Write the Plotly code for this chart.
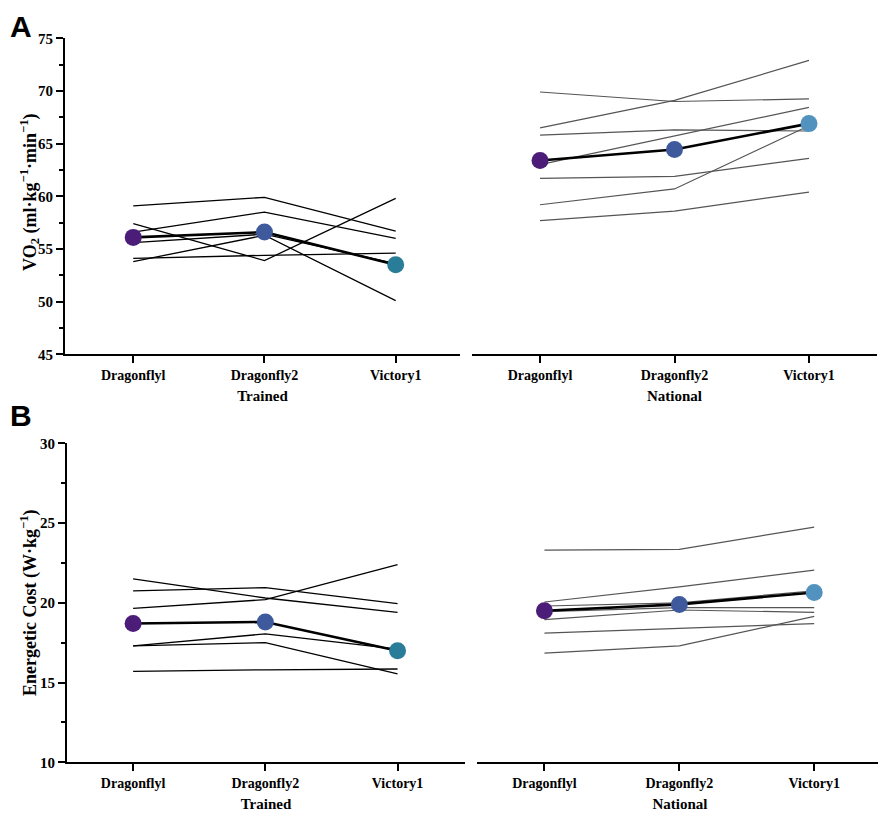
import plotly.graph_objects as go

# ---------------- data ----------------
categories = ["Dragonflyl", "Dragonfly2", "Victory1"]

# Panel A: VO2 (ml·kg-1·min-1)
vo2_trained_individuals = [
    [59.1, 59.9, 56.7],
    [57.4, 53.9, 59.8],
    [56.6, 58.5, 56.0],
    [55.6, 56.4, 53.6],
    [54.1, 54.4, 54.6],
    [53.8, 56.3, 50.1],
]
vo2_trained_mean = [56.1, 56.6, 53.5]

vo2_national_individuals = [
    [69.9, 69.0, 69.25],
    [66.5, 69.1, 72.9],
    [65.8, 66.3, 66.2],
    [63.0, 65.7, 68.45],
    [61.7, 61.9, 63.6],
    [59.2, 60.7, 66.7],
    [57.7, 58.6, 60.4],
]
vo2_national_mean = [63.4, 64.45, 66.9]

# Panel B: Energetic cost (W·kg-1)
ec_trained_individuals = [
    [21.5, 20.3, 19.4],
    [20.75, 20.95, 19.95],
    [19.65, 20.2, 22.4],
    [17.3, 18.05, 17.1],
    [17.3, 17.5, 15.55],
    [15.7, 15.8, 15.85],
]
ec_trained_mean = [18.7, 18.8, 17.0]

ec_national_individuals = [
    [23.3, 23.35, 24.75],
    [20.05, 21.0, 22.05],
    [19.8, 20.0, 20.75],
    [19.45, 19.7, 19.7],
    [18.95, 19.55, 19.4],
    [18.1, 18.4, 18.7],
    [16.85, 17.3, 19.15],
]
ec_national_mean = [19.5, 19.9, 20.65]

group_titles = ["Trained", "National"]
y_titles = ["VO<sub>2</sub> (ml·kg<sup>−1</sup>·min<sup>−1</sup>)",
            "Energetic Cost (W·kg<sup>−1</sup>)"]

# marker colours per category
colors_trained = ["#4B1D78", "#3F5A9C", "#2A7D98"]
colors_national = ["#4B1D78", "#3F5A9C", "#5193BE"]

xpos = list(range(len(categories)))

fig = go.Figure()

SERIF = "Liberation Serif"


def add_panel(individuals, mean, colors, xa, ya, line_color, line_width):
    for ind in individuals:
        fig.add_trace(go.Scatter(
            x=xpos, y=ind, mode="lines",
            line=dict(color=line_color, width=line_width),
            xaxis=xa, yaxis=ya, showlegend=False, hoverinfo="skip"))
    fig.add_trace(go.Scatter(
        x=xpos, y=mean, mode="lines+markers",
        line=dict(color="black", width=2.6),
        marker=dict(size=17, color=colors, line=dict(width=0)),
        xaxis=xa, yaxis=ya, showlegend=False))


add_panel(vo2_trained_individuals, vo2_trained_mean, colors_trained, "x", "y", "black", 1.3)
add_panel(vo2_national_individuals, vo2_national_mean, colors_national, "x2", "y2", "#555555", 1.2)
add_panel(ec_trained_individuals, ec_trained_mean, colors_trained, "x3", "y3", "black", 1.3)
add_panel(ec_national_individuals, ec_national_mean, colors_national, "x4", "y4", "#555555", 1.2)

# page body has an 8px margin: work in reference-pixel coordinates and shift
OFF = 8
W, H = 886 - OFF, 815 - OFF


def xfrac(px):
    return (px - OFF) / W


def yfrac(px):
    return 1 - (px - OFF) / H


tickfont = dict(family=SERIF, size=14, color="black", weight="bold")
titlefont = dict(family=SERIF, size=15, color="black", weight="bold")
ytitlefont = dict(family=SERIF, size=18, color="black", weight="bold")


def xaxis_cfg(dom, rng, title, anchor):
    return dict(
        domain=dom, range=rng, anchor=anchor,
        tickvals=xpos, ticktext=categories,
        showline=True, linecolor="black", linewidth=2.2,
        ticks="outside", ticklen=7, tickwidth=2, tickcolor="black",
        showgrid=False, zeroline=False, tickfont=tickfont,
        title=dict(text=title, font=titlefont, standoff=8),
        automargin=False, fixedrange=True)


def yaxis_cfg(dom, rng, dtick, anchor, visible=True):
    if not visible:
        return dict(domain=dom, range=rng, anchor=anchor, visible=False,
                    showgrid=False, zeroline=False, fixedrange=True)
    return dict(
        domain=dom, range=rng, anchor=anchor, dtick=dtick,
        showline=True, linecolor="black", linewidth=2.2,
        ticks="outside", ticklen=7, tickwidth=2, tickcolor="black",
        minor=dict(dtick=dtick / 2, ticks="outside", ticklen=4, tickwidth=1.5,
                   tickcolor="black", showgrid=False),
        showgrid=False, zeroline=False,
        tickfont=dict(family=SERIF, size=15, color="black", weight="bold"),
        automargin=False, fixedrange=True)


yA = [yfrac(354.3), yfrac(38.3)]
yB = [yfrac(762.3), yfrac(443.3)]

fig.update_layout(
    width=W, height=H,
    margin=dict(l=0, r=0, t=0, b=0),
    paper_bgcolor="white", plot_bgcolor="white",
    showlegend=False,
    font=dict(family=SERIF, color="black"),
    xaxis=xaxis_cfg([xfrac(65), xfrac(460)], [-0.52, 2.49], group_titles[0], "y"),
    yaxis=yaxis_cfg(yA, [45, 75], 5, "x"),
    xaxis2=xaxis_cfg([xfrac(472), xfrac(877)], [-0.506, 2.506], group_titles[1], "y2"),
    yaxis2=yaxis_cfg(yA, [45, 75], 5, "x2", visible=False),
    xaxis3=xaxis_cfg([xfrac(67), xfrac(465)], [-0.5, 2.51], group_titles[0], "y3"),
    yaxis3=yaxis_cfg(yB, [10, 30], 5, "x3"),
    xaxis4=xaxis_cfg([xfrac(477), xfrac(883)], [-0.5, 2.51], group_titles[1], "y4"),
    yaxis4=yaxis_cfg(yB, [10, 30], 5, "x4", visible=False),
    annotations=[
        dict(text="<b>A</b>", x=0, y=yfrac(8), xref="paper", yref="paper",
             xanchor="left", yanchor="top", showarrow=False,
             font=dict(family="Liberation Sans", size=30, color="black")),
        dict(text="<b>B</b>", x=0, y=yfrac(397), xref="paper", yref="paper",
             xanchor="left", yanchor="top", showarrow=False,
             font=dict(family="Liberation Sans", size=30, color="black")),
        dict(text=y_titles[0], x=xfrac(29), y=yfrac(193), xref="paper", yref="paper",
             xanchor="center", yanchor="middle", textangle=-90, showarrow=False,
             font=ytitlefont),
        dict(text=y_titles[1], x=xfrac(29), y=yfrac(603), xref="paper", yref="paper",
             xanchor="center", yanchor="middle", textangle=-90, showarrow=False,
             font=ytitlefont),
    ],
)

fig.write_html("out.html")
